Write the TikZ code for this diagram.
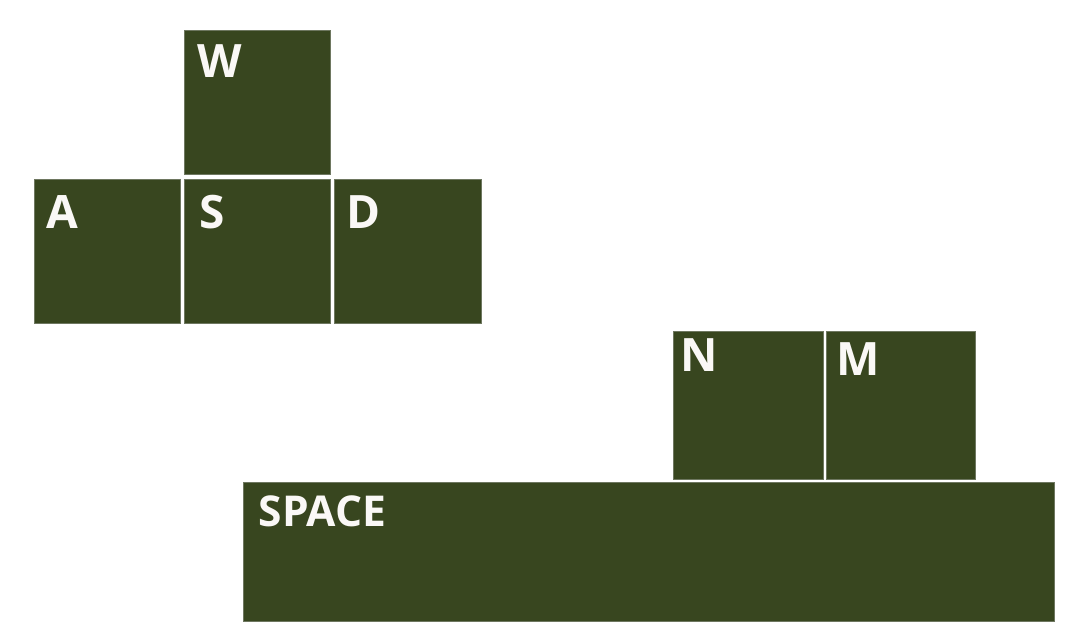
\documentclass[tikz,border=0pt]{standalone}
\usepackage{fontspec}
\setmainfont{Open Sans}
\definecolor{keyfill}{HTML}{38461F}
\definecolor{keyedge}{HTML}{6E7760}
\definecolor{keytext}{HTML}{FAF8F6}
\begin{document}
\begin{tikzpicture}[x=1pt,y=-1pt,
  keybox/.style={draw=keyedge,line width=0.6pt,fill=keyfill,inner sep=0pt,outer sep=0pt},
  keylab/.style={anchor=base west,inner sep=0pt,text=keytext,font=\fontsize{46}{46}\selectfont\bfseries},
  spacelab/.style={keylab,font=\fontsize{42.5}{42.5}\selectfont\bfseries}]
\useasboundingbox (0,0) rectangle (1088,640);
\fill[white] (0,0) rectangle (1088,640);
\node[keybox,minimum width=146pt,minimum height=144.5pt] (W) at (257.3,102.2) {};
\node[keybox,minimum width=146pt,minimum height=144.3pt] (A) at (107,251.2) {};
\node[keybox,minimum width=146pt,minimum height=144.3pt] (S) at (257.3,251.2) {};
\node[keybox,minimum width=146.3pt,minimum height=144.3pt] (D) at (407.8,251.2) {};
\node[keybox,minimum width=149.7pt,minimum height=148pt] (N) at (748.2,405.3) {};
\node[keybox,minimum width=149.4pt,minimum height=148pt] (M) at (901,405.3) {};
\node[keybox,minimum width=811pt,minimum height=139pt] (SP) at (648.8,552.2) {};
\node[keylab] (tW) at (197.5,77.7) {W};
\node[keylab] (tA) at (46,228.3) {A};
\node[keylab] (tS) at (199,228.3) {S};
\node[keylab] (tD) at (346.5,228.3) {D};
\node[keylab] (tN) at (680.5,371.7) {N};
\node[keylab] (tM) at (836.5,375) {M};
\node[spacelab] (tSP) at (258.5,526) {SPACE};
\end{tikzpicture}
\end{document}
